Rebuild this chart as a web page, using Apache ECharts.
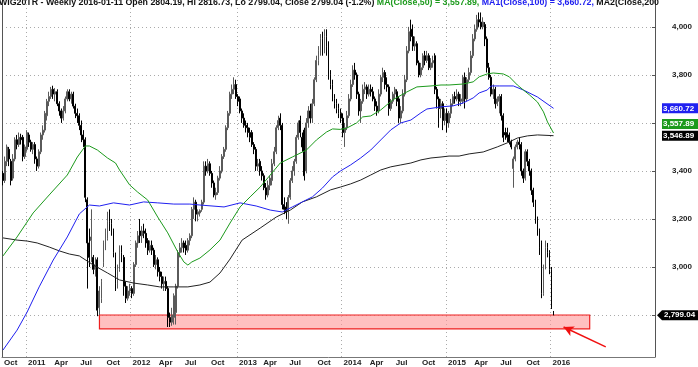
<!DOCTYPE html>
<html><head><meta charset="utf-8">
<script src="https://cdn.jsdelivr.net/npm/echarts@6/dist/echarts.min.js"></script>
<style>html,body{margin:0;padding:0;background:#fff;overflow:hidden}#c{width:698px;height:367px}</style>
</head><body><div id="c"></div>
<script>
// ---- data (weekly bars, first bar = week of 2010-10-11, last = 2016-01-11) ----
const firstWeek = [2010, 9, 11];   // year, month(0-based), day
const axisWeeks = 325;             // weekly slots on the axis, incl. empty space on the right
const opens = [
3390,3360,3440,3490,3440,3370,3450,3530,3510,3540,
3540,3460,3490,3550,3520,3490,3510,3450,3420,3480,
3550,3570,3630,3690,3710,3740,3720,3730,3680,3650,
3620,3650,3700,3730,3700,3720,3670,3640,3630,3590,
3550,3530,3280,3100,3110,3040,2990,3030,2830,2870,
3020,3100,3120,3190,3180,3150,3050,2930,2990,3060,
3040,2920,2870,2900,2910,2890,3010,3100,3150,3130,
3150,3140,3110,3070,3090,3070,3010,3030,2980,2960,
2930,2940,2910,2790,2770,2790,2810,2920,3060,3080,
3100,3090,3070,3110,3130,3240,3270,3220,3225,3240,
3270,3420,3400,3430,3390,3350,3300,3310,3370,3400,
3460,3490,3580,3640,3720,3740,3760,3710,3700,3650,
3620,3590,3580,3560,3560,3510,3490,3420,3440,3400,
3380,3330,3300,3340,3360,3430,3480,3580,3620,3590,
3260,3250,3230,3290,3360,3400,3440,3540,3610,
3540,3570,3400,3600,3650,3620,3680,3780,3860,3900,
3950,3900,3960,3920,3800,3760,3700,3680,3660,3640,
3620,3560,3580,3630,3700,3760,3820,3800,3720,3650,
3690,3740,3750,3720,3740,3730,3700,3670,3650,3720,
3790,3810,3760,3750,3660,3690,3720,3730,3700,3620,
3650,3720,3780,3900,3990,3960,3920,3930,3850,3800,
3830,3880,3860,3880,3830,3850,3880,3740,3700,3660,
3680,3610,3640,3600,3640,3680,3710,3700,3720,3690,
3690,3790,3700,3780,3810,3880,3950,3990,4030,4020,
4000,4010,3950,3830,3790,3720,3740,3680,3690,3710,
3630,3560,3560,3550,3520,3410,3450,3500,3520,3510,
3400,3370,3480,3440,3400,3320,3270,3200,3150,3100,
2890,3000,3080,3060,2990,2804.19];
const closes = [
3360,3440,3500,3450,3360,3450,3530,3510,3540,3530,
3460,3500,3560,3520,3490,3510,3450,3420,3480,3550,
3570,3640,3690,3710,3740,3720,3730,3680,3650,3620,
3650,3700,3730,3700,3720,3670,3640,3630,3590,3550,
3530,3290,3100,3040,3125,2990,3010,2820,2900,2940,
3100,3120,3190,3180,3150,3060,2930,2990,3070,3050,
2920,2870,2900,2910,2890,3010,3100,3130,3130,3150,
3140,3100,3070,3090,3070,3010,3030,2980,2960,2930,
2940,2910,2790,2770,2800,2880,2920,3060,3080,3100,
3080,3070,3110,3130,3240,3270,3220,3230,3235,3270,
3420,3400,3430,3390,3350,3300,3310,3370,3400,3460,
3490,3580,3640,3720,3740,3760,3710,3690,3650,3620,
3590,3580,3560,3540,3510,3490,3420,3430,3400,3380,
3330,3300,3340,3370,3430,3480,3580,3610,3590,3260,
3240,3230,3290,3360,3400,3440,3540,3600,3560,
3500,3380,3600,3650,3620,3680,3780,3860,3900,3950,
3900,3960,3920,3800,3760,3700,3680,3660,3640,3620,
3560,3580,3630,3700,3760,3820,3800,3720,3650,3690,
3740,3750,3720,3740,3730,3700,3670,3650,3720,3790,
3810,3760,3750,3660,3690,3720,3740,3690,3620,3650,
3720,3780,3900,3980,3960,3920,3930,3850,3800,3830,
3880,3860,3880,3830,3850,3860,3740,3700,3660,3680,
3610,3640,3600,3640,3680,3710,3700,3720,3690,3700,
3790,3700,3780,3810,3880,3950,3990,4030,4020,4000,
4020,3950,3830,3790,3720,3740,3680,3700,3710,3630,
3540,3550,3540,3520,3500,3450,3500,3520,3510,3400,
3370,3480,3440,3400,3320,3270,3200,3150,3080,2890,
3000,3080,3060,2990,2833,2799.04];
const lows = [
3340,3350,3420,3420,3340,3360,3440,3490,3500,3510,
3440,3450,3480,3500,3480,3470,3430,3400,3410,3470,
3530,3560,3610,3670,3700,3700,3690,3670,3630,3600,
3610,3640,3690,3690,3680,3660,3620,3600,3570,3520,
3500,3270,2910,3000,3020,2970,2960,2795,2800,2850,
3000,3070,3110,3150,3130,3040,2900,2910,2980,3020,
2880,2850,2860,2880,2870,2880,3000,3080,3100,3100,
3120,3080,3050,3060,3050,3000,2990,2960,2940,2910,
2900,2900,2750,2750,2755,2760,2760,2910,3040,3060,
3060,3050,3060,3090,3120,3200,3190,3190,3210,3230,
3260,3380,3390,3380,3330,3290,3280,3300,3360,3390,
3450,3480,3570,3630,3700,3720,3700,3670,3640,3600,
3580,3560,3540,3520,3500,3470,3400,3400,3380,3360,
3320,3280,3290,3320,3340,3420,3470,3570,3570,3240,
3220,3200,3180,3280,3350,3380,3430,3530,3540,
3480,3360,3390,3580,3600,3600,3670,3770,3840,3880,
3880,3890,3880,3780,3740,3690,3660,3640,3620,3600,
3540,3500,3570,3620,3690,3750,3780,3700,3630,3600,
3680,3720,3700,3710,3710,3690,3650,3630,3640,3710,
3770,3740,3730,3630,3650,3680,3700,3670,3600,3600,
3640,3710,3770,3890,3940,3900,3900,3840,3790,3790,
3820,3840,3850,3820,3820,3830,3720,3660,3580,3620,
3570,3590,3560,3580,3620,3670,3680,3690,3670,3670,
3680,3660,3690,3770,3800,3870,3940,3980,4000,3990,
3990,3920,3810,3780,3710,3700,3660,3670,3640,3610,
3520,3530,3520,3510,3490,3330,3440,3490,3490,3380,
3350,3360,3420,3380,3300,3250,3180,3130,3050,2870,
2880,2990,3040,2970,2825,2799.04];
const highs = [
3400,3460,3510,3500,3450,3470,3540,3550,3560,3555,
3550,3510,3570,3560,3530,3520,3520,3460,3490,3560,
3590,3650,3700,3730,3750,3755,3745,3740,3690,3660,
3670,3710,3740,3740,3730,3730,3680,3660,3640,3610,
3570,3540,3290,3160,3240,3050,3040,3040,2920,2950,
3110,3160,3230,3240,3200,3160,3060,3010,3090,3090,
3050,2940,2920,2930,2920,3020,3110,3150,3200,3170,
3180,3160,3120,3110,3110,3080,3050,3040,3000,2980,
2960,2960,2920,2810,2830,2890,2930,3070,3100,3120,
3110,3110,3120,3140,3250,3290,3280,3240,3240,3280,
3440,3440,3450,3440,3400,3360,3330,3380,3420,3470,
3500,3590,3650,3730,3760,3790,3780,3720,3710,3660,
3640,3610,3600,3580,3570,3520,3500,3450,3450,3420,
3390,3350,3360,3380,3450,3500,3590,3630,3640,3600,
3290,3270,3300,3370,3420,3450,3550,3610,3630,
3560,3580,3620,3670,3680,3700,3790,3880,3920,3970,
3980,3990,3990,3940,3820,3780,3720,3700,3680,3660,
3640,3600,3650,3720,3780,3840,3850,3810,3730,3700,
3760,3770,3760,3760,3760,3750,3710,3690,3740,3800,
3830,3820,3790,3760,3700,3730,3750,3740,3710,3670,
3740,3800,3920,4000,4030,4010,3960,3940,3860,3850,
3890,3900,3900,3890,3870,3880,3890,3750,3710,3700,
3690,3660,3660,3650,3700,3720,3730,3740,3730,3720,
3800,3810,3790,3830,3900,3970,4010,4050,4060,4060,
4040,4020,3960,3850,3800,3760,3750,3710,3720,3720,
3640,3580,3580,3560,3530,3460,3510,3530,3540,3520,
3410,3490,3490,3450,3410,3330,3280,3210,3160,3110,
3010,3110,3100,3070,3000,2816.73];

// moving averages: week index -> value
const ma50Idx = [0,7,15,23,32,37,41,43,47,52,56,58,63,67,72,77,82,87,90,92,94,98,103,108,113,118,123,128,133,138,144,151,156,161,164,168,171,176,179,183,188,194,201,206,213,218,222,229,234,237,241,244,249,252,256,259,262,266,269,271,274];
const ma50Val = [3046,3125,3225,3300,3383,3458,3504,3504,3487,3454,3433,3404,3342,3312,3279,3208,3142,3062,3021,3008,3021,3037,3071,3112,3183,3250,3292,3333,3383,3433,3458,3487,3529,3562,3575,3573,3578,3600,3625,3629,3654,3696,3729,3750,3754,3758,3758,3762,3771,3792,3804,3808,3804,3792,3758,3737,3717,3687,3646,3604,3557.89];
const ma100Idx = [0,7,12,18,25,32,38,43,48,55,63,70,77,85,93,98,110,118,126,133,139,144,149,154,159,164,168,173,178,183,188,193,198,203,208,211,218,224,229,234,237,241,243,247,254,259,266,274];
const ma100Val = [2654,2737,2812,2917,3029,3125,3221,3258,3254,3267,3258,3271,3267,3262,3262,3258,3250,3267,3254,3237,3229,3250,3271,3292,3329,3375,3400,3425,3454,3487,3529,3571,3600,3612,3642,3658,3667,3671,3683,3704,3725,3737,3754,3754,3754,3737,3708,3660.72];
const ma200Idx = [0,7,12,17,23,28,33,38,45,52,58,65,72,78,85,92,98,103,108,113,119,128,136,143,149,156,163,168,173,178,183,188,193,198,203,208,213,218,222,227,232,239,246,251,256,261,266,274];
const ma200Val = [3121,3112,3108,3100,3083,3067,3054,3046,3008,2975,2946,2933,2925,2917,2917,2917,2925,2937,2975,3033,3112,3162,3208,3237,3271,3292,3321,3333,3346,3362,3383,3404,3417,3425,3433,3446,3454,3458,3462,3462,3471,3479,3500,3517,3537,3546,3550,3546.89];

// support zone and the arrow pointing at it (week index, value)
const zoneWeeks = [48, 292];
const zoneValues = [2800, 2742];
const arrowWeeks = [300, 279];
const arrowValues = [2667, 2750];

// ---- build ----
const weeks = [];
const t0 = Date.UTC(firstWeek[0], firstWeek[1], firstWeek[2]);
for (let k = 0; k < axisWeeks; k++) weeks.push(new Date(t0 + k * 7 * 864e5).toISOString().slice(0, 10));
const lastIdx = closes.length - 1;
const MON = ['Jan','Feb','Mar','Apr','May','Jun','Jul','Aug','Sep','Oct','Nov','Dec'];
const monthOf = k => +weeks[k].slice(5, 7) - 1;
function quarterStart(k) {
  if (k > lastIdx) return false;
  const m = monthOf(k);
  if (m % 3 !== 0) return false;
  return k === 0 || monthOf(k - 1) !== m;
}
const yearStart = k => quarterStart(k) && monthOf(k) === 0;
const candles = opens.map((o, i) => [o, closes[i], lows[i], highs[i]]);
const pairs = (idx, val) => idx.map((k, j) => [k, val[j]]);
const fmt2 = v => v.toLocaleString('en-US', {minimumFractionDigits: 2, maximumFractionDigits: 2});
const FONT = 'Liberation Sans';
const lastCat = axisWeeks - 1;

const GREEN = '#1c9a1c', BLUE = '#2020f0', BLACK = '#222';
function tag(value, color, dy, path) {
  return {
    symbol: path || 'rect', symbolSize: path ? [46, 10] : [42, 10],
    symbolOffset: path ? [26, dy] : [29, dy],
    data: [{coord: [lastCat, value], value: value}],
    itemStyle: {color: color},
    label: {show: true, position: 'insideLeft', distance: path ? 7 : 1, color: '#fff',
      fontSize: 8, fontWeight: 'bold', fontFamily: FONT, formatter: p => fmt2(p.value)},
    silent: true, z: 10
  };
}

const prev = closes[lastIdx - 1], last = closes[lastIdx];
const pct = ((last - prev) / prev * 100).toFixed(1);
const titleBlack = 'WIG20TR - Weekly ' + weeks[lastIdx] + ' Open ' + opens[lastIdx].toFixed(2) +
  ', Hi ' + highs[lastIdx].toFixed(2) + ', Lo ' + lows[lastIdx].toFixed(2) + ', Close ' + last.toFixed(2) + ' (' + pct + '%) ';
const titleGreen = 'MA(Close,50) = ' + fmt2(ma50Val[ma50Val.length - 1]) + ', ';
const titleBlue = 'MA1(Close,100) = ' + fmt2(ma100Val[ma100Val.length - 1]) + ', ';
const titleEnd = 'MA2(Close,200';

const chart = echarts.init(document.getElementById('c'), null, {renderer: 'canvas'});
const tstyle = c => ({color: c, fontWeight: 'bold', fontSize: 8.8, fontFamily: FONT});
chart.setOption({
  animation: false,
  backgroundColor: '#fff',
  title: {
    left: -1, top: -2, padding: 0,
    text: '{k|' + titleBlack + '}{g|' + titleGreen + '}{b|' + titleBlue + '}{k|' + titleEnd + '}',
    textStyle: {rich: {k: tstyle('#111'), g: tstyle(GREEN), b: tstyle(BLUE)}}
  },
  grid: {left: 2, right: 43, top: 0, bottom: 10},
  xAxis: {
    type: 'category', data: weeks, boundaryGap: true,
    axisLine: {lineStyle: {color: '#777'}},
    axisTick: {interval: i => quarterStart(i), length: 8, lineStyle: {color: '#333'}},
    axisLabel: {interval: i => quarterStart(i), align: 'left', margin: 2, padding: [0, 0, 0, 1],
      fontSize: 8, fontWeight: 'bold', color: '#222', fontFamily: FONT,
      formatter: v => { const m = +v.slice(5, 7) - 1; return m === 0 ? v.slice(0, 4) : MON[m]; }},
    splitLine: {show: true, interval: i => yearStart(i), lineStyle: {color: '#aaa', type: [1, 3], width: 1}}
  },
  yAxis: [{
    type: 'value', position: 'right', min: 2625, max: 4112, splitNumber: 7,
    axisLine: {show: true, lineStyle: {color: '#555'}},
    axisTick: {show: true, inside: true, length: 3, lineStyle: {color: '#555'}},
    axisLabel: {margin: 17, fontSize: 8, fontWeight: 'bold', color: '#222', fontFamily: FONT,
      showMinLabel: false, showMaxLabel: false, formatter: v => v.toLocaleString('en-US')},
    splitLine: {show: true, showMinLine: false, showMaxLine: false, lineStyle: {color: '#aaa', type: [1, 3]}}
  }, {
    type: 'value', position: 'left', min: 2625, max: 4112,
    axisLine: {show: true, lineStyle: {color: '#555'}},
    axisTick: {show: false}, axisLabel: {show: false}, splitLine: {show: false}
  }],
  series: [
    {
      type: 'line', data: pairs(ma200Idx, ma200Val), showSymbol: false, symbol: 'none',
      lineStyle: {color: BLACK, width: 1}, z: 3, silent: true,
      markPoint: tag(ma200Val[ma200Val.length - 1], '#000', 0)
    },
    {
      type: 'line', data: pairs(ma100Idx, ma100Val), showSymbol: false, symbol: 'none',
      lineStyle: {color: BLUE, width: 1}, z: 3, silent: true,
      markPoint: tag(ma100Val[ma100Val.length - 1], BLUE, 0)
    },
    {
      type: 'line', data: pairs(ma50Idx, ma50Val), showSymbol: false, symbol: 'none',
      lineStyle: {color: GREEN, width: 1}, z: 3, silent: true,
      markPoint: tag(ma50Val[ma50Val.length - 1], GREEN, -9)
    },
    {
      type: 'candlestick', data: candles, barWidth: 1.4, z: 2,
      itemStyle: {color: '#9a9a9a', color0: '#000', borderColor: '#5a5a5a', borderColor0: '#000', borderWidth: 1},
      markArea: {
        silent: true,
        itemStyle: {color: 'rgba(255,150,150,0.6)', borderColor: '#ee2020', borderWidth: 1.2},
        data: [[{xAxis: zoneWeeks[0], yAxis: zoneValues[0]}, {xAxis: zoneWeeks[1], yAxis: zoneValues[1]}]]
      },
      markLine: {
        silent: true, symbol: ['none', 'arrow'], symbolSize: [8, 10],
        lineStyle: {color: '#f01010', width: 1.5, type: 'solid'}, label: {show: false},
        data: [[{coord: [arrowWeeks[0], arrowValues[0]]}, {coord: [arrowWeeks[1], arrowValues[1]]}]]
      },
      markPoint: tag(last, '#000', 0, 'path://M0,5L5,0L46,0L46,10L5,10Z')
    }
  ]
});
</script>
</body></html>
